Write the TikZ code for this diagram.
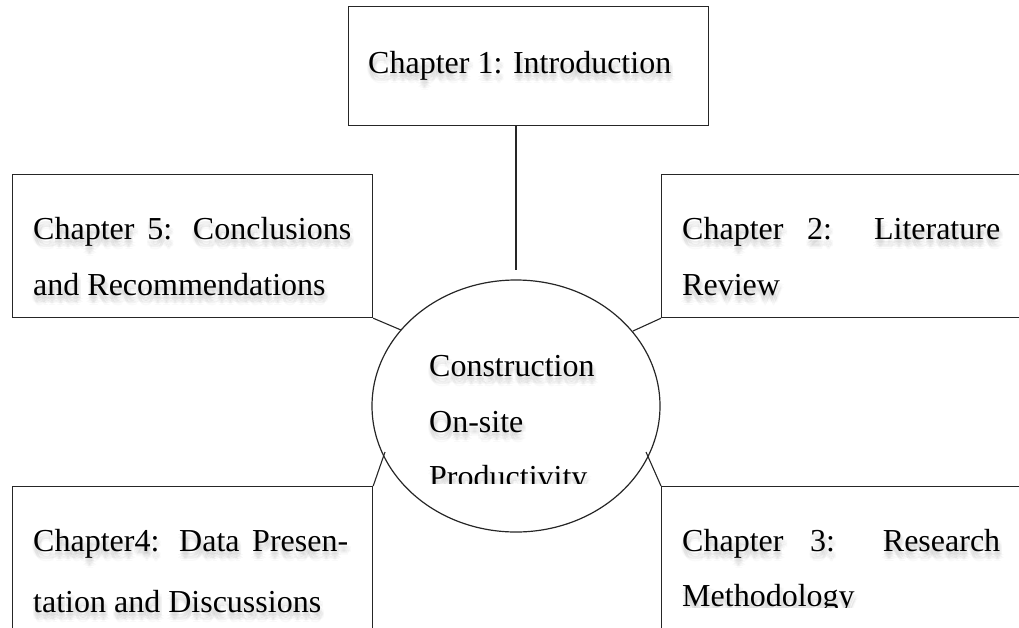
\documentclass[tikz,border=0pt]{standalone}
\usepackage{fontspec}
\setmainfont{Liberation Serif}
\usetikzlibrary{shapes.geometric}

\tikzset{
  frame/.style={draw=black!85, line width=1.2pt, fill=none, inner sep=0pt, anchor=north west},
  link/.style={draw=black!85, line width=1.1pt},
  words/.style={font=\fontsize{32}{38}\selectfont, inner sep=0pt, anchor=base west, text=black},
  halo/.style={words, opacity=0.025},
}

% text line with a soft drop shadow underneath
\newcommand\softline[4]{%
  \foreach \dx/\dy [count=\k] in {-2/4,0/3,2/3,4/4,-1/6,1/5,3/6,0/8,2/8,1/10,-2/7,4/7}{%
    \node[halo] (#1-h\k) at (#2+\dx,#3+\dy) {#4};
  }
  \node[words] (#1) at (#2,#3) {#4};
}

\begin{document}
\begin{tikzpicture}[x=1pt,y=-1pt]
  \useasboundingbox (0,0) rectangle (1019,627);
  \clip (0,0) rectangle (1019,627);

  % chapter boxes
  \node[frame, minimum width=360pt, minimum height=119pt] (c1) at (348,6) {};
  \node[frame, minimum width=360pt, minimum height=143pt] (c5) at (12,174) {};
  \node[frame, minimum width=400pt, minimum height=143pt] (c2) at (661,174) {};
  \node[frame, minimum width=360pt, minimum height=200pt] (c4) at (12,486) {};
  \node[frame, minimum width=400pt, minimum height=200pt] (c3) at (661,486) {};

  % central topic
  \node[ellipse, draw=black!85, line width=1.2pt, minimum width=288pt,
        minimum height=252pt, inner sep=0pt] (hub) at (516,406) {};

  % free ends of the connectors
  \coordinate (e1) at (516,270);
  \coordinate (e5) at (401,330);
  \coordinate (e2) at (633,331);
  \coordinate (e4) at (385,452);
  \coordinate (e3) at (646,452);

  \draw[link] (c1.south -| e1) -- (e1);
  \draw[link] (c5.south east) -- (e5);
  \draw[link] (c2.south west) -- (e2);
  \draw[link] (c4.north east) -- (e4);
  \draw[link] (c3.north west) -- (e3);

  % labels
  \softline{t1}{368}{73}{Chapter 1: Introduction}
  \softline{t5a}{33}{239}{\makebox[318pt][s]{Chapter 5: Conclusions}}
  \softline{t5b}{33}{295}{and Recommendations}
  \softline{t2a}{682}{239}{\makebox[318pt][s]{Chapter 2: Literature}}
  \softline{t2b}{682}{295}{Review}
  \softline{t4a}{33}{551}{\makebox[315pt][s]{Chapter4: Data Presen-}}
  \softline{t4b}{33}{612}{tation and Discussions}
  \softline{t3a}{682}{551}{\makebox[318pt][s]{Chapter 3: Research}}
  \softline{hc}{429}{376}{Construction}
  \softline{ho}{429}{432}{On-site}
  \begin{scope}
    \clip (0,0) rectangle (1019,483);
    \softline{hp}{429}{487}{Productivity}
  \end{scope}
  \begin{scope}
    \clip (0,0) rectangle (1019,607);
    \softline{t3b}{682}{606}{Methodology}
  \end{scope}
\end{tikzpicture}
\end{document}
